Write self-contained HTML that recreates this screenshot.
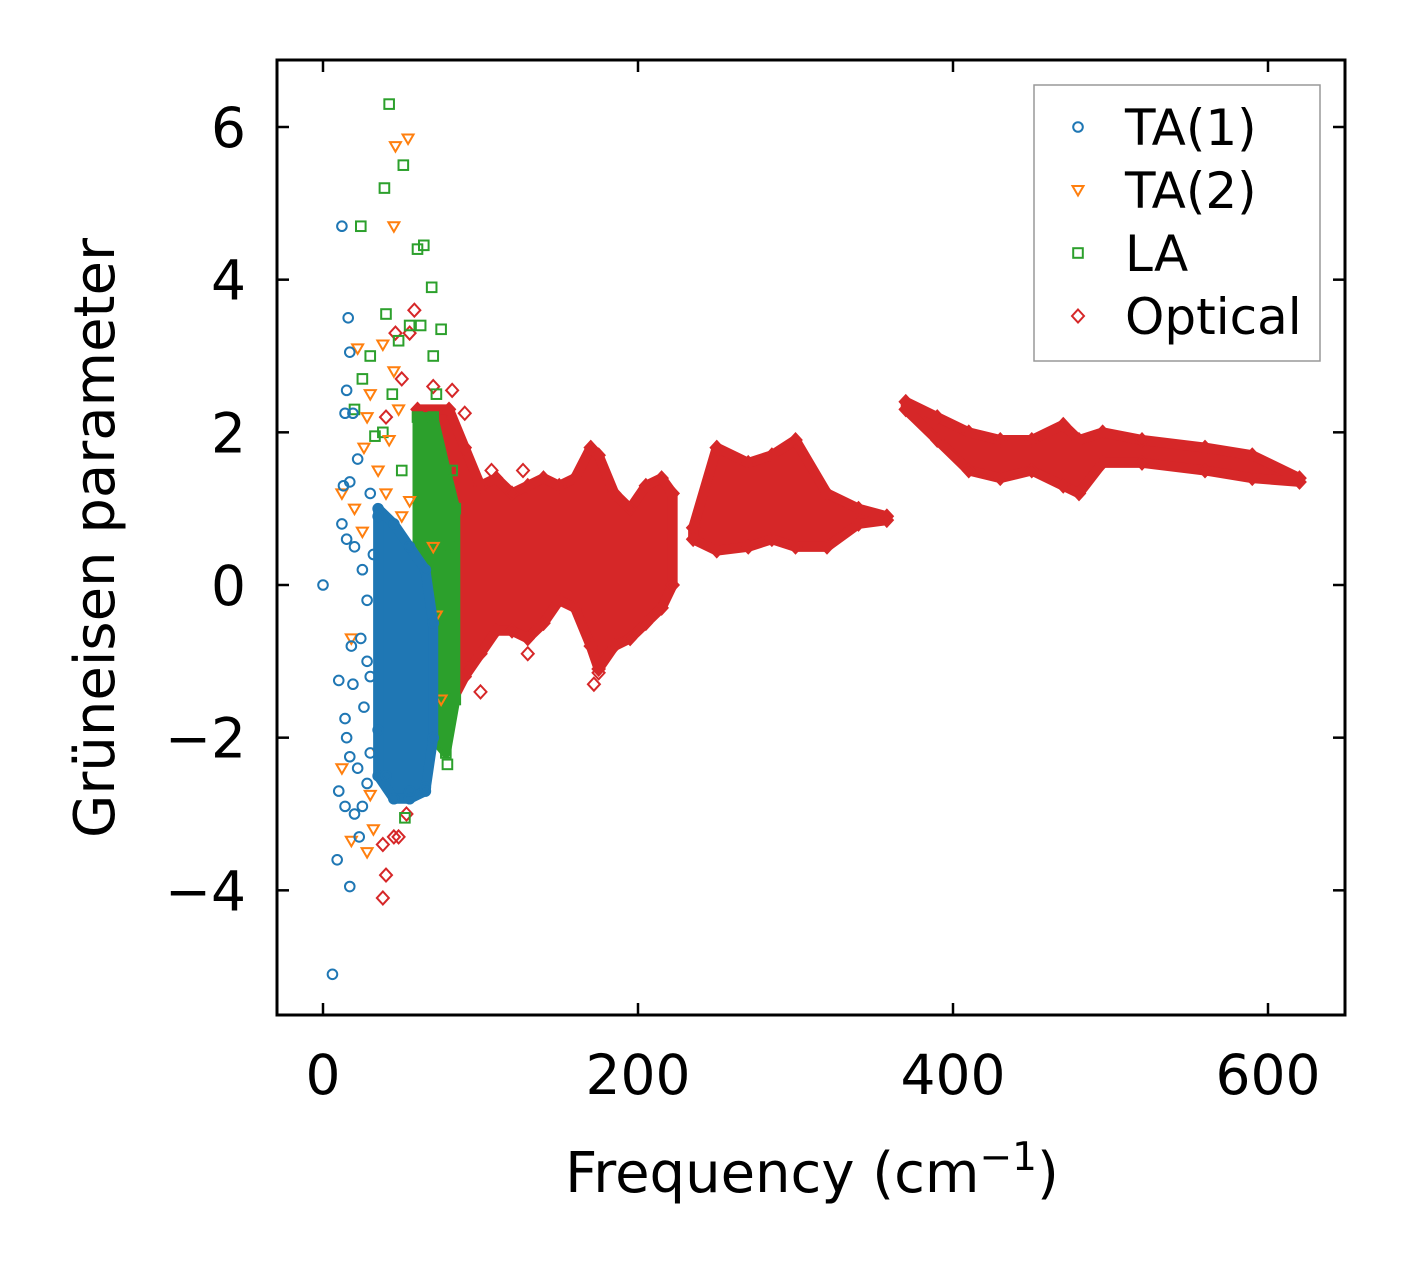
<!DOCTYPE html>
<html><head><meta charset="utf-8"><style>
html,body{margin:0;padding:0;background:#fff;}
svg text{font-family:"DejaVu Sans","Liberation Sans",sans-serif;fill:#000;}
</style></head><body>
<svg id="chart" xmlns="http://www.w3.org/2000/svg" width="1406" height="1264" viewBox="0 0 1406 1264">
<rect width="1406" height="1264" fill="#fff"/>
<g id="plot"></g>
<rect x="277" y="60" width="1068" height="955" fill="none" stroke="#000" stroke-width="3"/>
<g id="ticks"></g>
<text x="812" y="1192" font-size="56" text-anchor="middle">Frequency (cm<tspan dy="-22" font-size="39">−1</tspan><tspan dy="22">)</tspan></text>
<text transform="translate(114,538) rotate(-90)" font-size="56" text-anchor="middle">Grüneisen parameter</text>
<g id="legend">
<rect x="1034" y="85" width="286" height="276" fill="#fff" stroke="#999" stroke-width="1.5"/>
</g>
</svg>
<script>
const xTicks=[0,200,400,600];
const yTicks=[-4,-2,0,2,4,6];
const legendLabels=["TA(1)","TA(2)","LA","Optical"];
const colors=["#1f77b4","#ff7f0e","#2ca02c","#d62728"];
// dense-region envelopes [x, upper, lower]
const opticalBand1=[[60,2.3,-1.8],[80,2.3,-1.6],[90,1.8,-1.2],[100,1.3,-0.9],[110,1.4,-0.6],[120,1.2,-0.6],[130,1.3,-0.7],[140,1.4,-0.5],[150,1.3,-0.2],[160,1.4,-0.3],[170,1.8,-0.8],[175,1.7,-1.1],[185,1.2,-0.8],[195,1.0,-0.7],[205,1.3,-0.5],[215,1.4,-0.3],[222,1.2,0.0]];
const opticalBand2=[[235,0.75,0.6],[250,1.8,0.45],[270,1.6,0.5],[285,1.7,0.6],[300,1.9,0.5],[320,1.2,0.5],[340,1.0,0.8],[358,0.9,0.85]];
const opticalBand3=[[370,2.4,2.3],[390,2.2,1.9],[410,2.0,1.5],[430,1.9,1.4],[450,1.9,1.5],[470,2.1,1.3],[480,1.9,1.2],[495,2.0,1.6],[520,1.9,1.6],[560,1.8,1.5],[590,1.7,1.4],[620,1.4,1.35]];
const ta1Band=[[35,1.0,-2.5],[45,0.8,-2.8],[55,0.5,-2.8],[65,0.2,-2.7],[70,-0.5,-2.0]];
const laBand=[[60,2.2,-1.8],[70,2.2,-2.0],[78,1.5,-2.2],[84,1.0,-1.5]];
const ta1Points=[[12,4.7],[16,3.5],[17,3.05],[15,2.55],[14,2.25],[19,2.25],[22,1.65],[13,1.3],[17,1.35],[12,0.8],[15,0.6],[20,0.5],[0,0],[10,-1.25],[18,-0.8],[19,-1.3],[14,-1.75],[15,-2.0],[17,-2.25],[10,-2.7],[14,-2.9],[20,-3.0],[9,-3.6],[17,-3.95],[6,-5.1],[23,-3.3],[25,-2.9],[28,-2.6],[22,-2.4],[26,-1.6],[30,-1.2],[24,-0.7],[28,-0.2],[32,0.4],[35,0.9],[25,0.2],[30,-2.2],[35,-1.9],[40,-2.5],[55,-2.7],[65,-2.65],[30,1.2],[28,-1.0]];
const ta2Points=[[46,5.75],[54,5.85],[45,4.7],[22,3.1],[38,3.15],[45,2.8],[30,2.5],[28,2.2],[26,1.8],[35,1.5],[12,1.2],[20,1.0],[25,0.7],[40,1.2],[50,0.9],[55,1.1],[70,0.5],[60,0.2],[18,-0.7],[12,-2.4],[30,-2.75],[32,-3.2],[28,-3.5],[18,-3.35],[35,-2.2],[50,-2.5],[65,-1.7],[75,-1.5],[45,-1.0],[38,-1.8],[72,-0.4],[42,1.9],[48,2.3]];
const laPoints=[[42,6.3],[51,5.5],[39,5.2],[24,4.7],[60,4.4],[64,4.45],[69,3.9],[40,3.55],[55,3.4],[62,3.4],[75,3.35],[30,3.0],[70,3.0],[48,3.2],[25,2.7],[44,2.5],[20,2.3],[38,2.0],[33,1.95],[72,2.5],[79,-2.35],[52,-3.05],[50,-2.6],[60,-2.2],[82,1.5],[80,0.5],[50,1.5],[45,0.5]];
const opticalPoints=[[38,-4.1],[40,-3.8],[38,-3.4],[45,-3.3],[48,-3.3],[53,-3.0],[46,3.3],[58,3.6],[55,3.3],[50,2.7],[70,2.6],[82,2.55],[90,2.25],[100,-1.4],[92,-1.1],[130,-0.9],[172,-1.3],[175,-1.15],[107,1.5],[127,1.5],[40,2.2],[45,-2.6]];

const NS="http://www.w3.org/2000/svg";
const X=v=>323+v*(1268-323)/600;
const Y=v=>585-v*(585-127)/6;
function mk(tag,at,parent){const e=document.createElementNS(NS,tag);for(const k in at)e.setAttribute(k,at[k]);parent.appendChild(e);return e;}
const plot=document.getElementById('plot');
const ticks=document.getElementById('ticks');
const legend=document.getElementById('legend');

function marker(type,cx,cy,color,parent){
  let e;
  if(type===0){e=mk('circle',{cx:cx,cy:cy,r:4.8,fill:'none',stroke:color,'stroke-width':2},parent);}
  else if(type===1){e=mk('polygon',{points:`${cx-5.5},${cy-4} ${cx+5.5},${cy-4} ${cx},${cy+5.5}`,fill:'none',stroke:color,'stroke-width':2},parent);}
  else if(type===2){e=mk('rect',{x:cx-4.8,y:cy-4.8,width:9.6,height:9.6,fill:'none',stroke:color,'stroke-width':2},parent);}
  else {e=mk('polygon',{points:`${cx},${cy-6.5} ${cx+6},${cy} ${cx},${cy+6.5} ${cx-6},${cy}`,fill:'none',stroke:color,'stroke-width':2},parent);}
  return e;
}
function band(arr,color,type,name){
  const up=arr.map(d=>`${X(d[0])},${Y(d[1])}`);
  const lo=arr.slice().reverse().map(d=>`${X(d[0])},${Y(d[2])}`);
  const p=mk('polygon',{points:up.concat(lo).join(' '),fill:color,stroke:color,'stroke-width':10,'stroke-linejoin':'round'},plot);
  
  
  arr.forEach(d=>{
    const a=marker(type,X(d[0]),Y(d[1]),color,plot);
    
    
    const b=marker(type,X(d[0]),Y(d[2]),color,plot);
    
    
  });
}
function points(arr,type,color,name){
  arr.forEach(d=>{
    const m=marker(type,X(d[0]),Y(d[1]),color,plot);
    
    
  });
}
band(opticalBand1,colors[3],3,'optical-band-1');
band(opticalBand2,colors[3],3,'optical-band-2');
band(opticalBand3,colors[3],3,'optical-band-3');
points(opticalPoints,3,colors[3],'optical-point');
band(laBand,colors[2],2,'la-band');
points(laPoints,2,colors[2],'la-point');
points(ta2Points,1,colors[1],'ta2-point');
band(ta1Band,colors[0],0,'ta1-band');
points(ta1Points,0,colors[0],'ta1-point');

xTicks.forEach(v=>{
  const x=X(v);
  mk('line',{x1:x,y1:1015,x2:x,y2:1003,stroke:'#000','stroke-width':2.5},ticks);
  mk('line',{x1:x,y1:60,x2:x,y2:72,stroke:'#000','stroke-width':2.5},ticks);
  const t=mk('text',{x:x,y:1094,'font-size':55,'text-anchor':'middle'},ticks);
  t.textContent=v;
  
  
});
yTicks.forEach(v=>{
  const y=Y(v);
  mk('line',{x1:277,y1:y,x2:289,y2:y,stroke:'#000','stroke-width':2.5},ticks);
  mk('line',{x1:1345,y1:y,x2:1333,y2:y,stroke:'#000','stroke-width':2.5},ticks);
  const t=mk('text',{x:246,y:y+20,'font-size':55,'text-anchor':'end'},ticks);
  t.textContent=v<0?'\u2212'+Math.abs(v):v;
  
  
});
legendLabels.forEach((l,i)=>{
  const y=127+i*63;
  const m=marker(i,1078,y,colors[i],legend);
  
  
  const t=mk('text',{x:1125,y:y+18,'font-size':50},legend);
  t.textContent=l;
  
  
});
</script>
</body></html>
